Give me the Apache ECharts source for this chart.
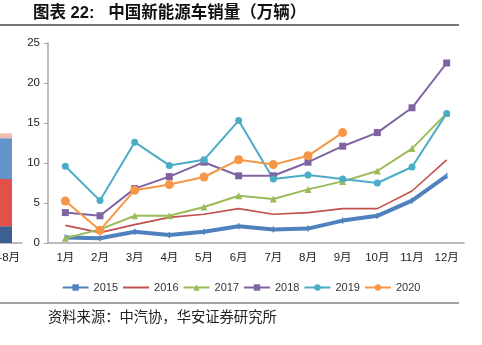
<!DOCTYPE html>
<html><head><meta charset="utf-8">
<script src="https://cdn.jsdelivr.net/npm/echarts@6/dist/echarts.min.js"></script>
<style>html,body{margin:0;padding:0;background:#fff}#c{width:482px;height:345px}</style>
</head><body><div id="c"></div>
<script>
var months = ['1月','2月','3月','4月','5月','6月','7月','8月','9月','10月','11月','12月'];
var yTicks = [0,5,10,15,20,25];
var s2015 = [0.7,0.6,1.4,1.0,1.4,2.1,1.7,1.8,2.8,3.4,5.3,8.4];
var s2016 = [2.2,1.3,2.3,3.2,3.6,4.3,3.6,3.8,4.3,4.3,6.5,10.4];
var s2017 = [0.6,1.7,3.4,3.4,4.5,5.9,5.5,6.7,7.7,9.0,11.8,16.2];
var s2018 = [3.8,3.4,6.8,8.3,10.1,8.4,8.4,10.1,12.1,13.8,16.9,22.5];
var s2019 = [9.6,5.3,12.6,9.7,10.4,15.3,8.0,8.5,8.0,7.5,9.5,16.2];
var s2020 = [5.25,1.6,6.6,7.3,8.25,10.4,9.8,10.9,13.8];
var fragCats = ['1-8月'];
var fragA = [2.1], fragB = [5.9], fragC = [5.1], fragD = [0.6];

var FONT = 'Liberation Sans, Arial, Noto Sans CJK SC, sans-serif';
var chart = echarts.init(document.getElementById('c'), null, {renderer:'canvas'});
function ln(name, data, color, width, symbol, size){
  return {name:name, type:'line', data:data, xAxisIndex:0, yAxisIndex:0,
    symbol:symbol, symbolSize:size, showSymbol: symbol!=='none',
    lineStyle:{color:color, width:width}, itemStyle:{color:color},
    emphasis:{disabled:true}, animation:false, z:3};
}
var option = {
  animation:false,
  textStyle:{fontFamily:FONT},
  graphic:[
    {type:'text', left:33, top:5, style:{text:'图表 22:   中国新能源车销量（万辆）', font:'bold 16.5px Liberation Sans, Noto Sans CJK SC', fill:'#111'}},
    {type:'rect', shape:{x:0,y:24,width:459,height:2}, style:{fill:'#777'}},
    {type:'rect', shape:{x:0,y:302.5,width:459,height:1}, style:{fill:'#444'}},
    {type:'text', left:48, top:309, style:{text:'资料来源：中汽协，华安证券研究所', font:'14.3px Noto Sans CJK SC', fill:'#222'}}
  ],
  legend:{
    data:['2015',{name:'2016', itemStyle:{opacity:0}},'2017','2018','2019','2020'],
    left:'center', top:277, itemWidth:26, itemHeight:8, itemGap:4,
    textStyle:{fontSize:11, color:'#333', fontFamily:FONT}
  },
  grid:[
    {left:48, right:18, top:43, bottom:102, outerBoundsMode:'none'},
    {left:-10, width:32, top:43, bottom:102, outerBoundsMode:'none', containLabel:false}
  ],
  xAxis:[
    {type:'category', gridIndex:0, data:months, boundaryGap:true,
     axisLine:{lineStyle:{color:'#a6a6a6', width:1.5}}, axisTick:{show:false},
     axisLabel:{color:'#222', fontSize:11.5, margin:9, fontFamily:FONT}},
    {type:'category', gridIndex:1, data:fragCats,
     axisLine:{lineStyle:{color:'#a6a6a6', width:1.5}}, axisTick:{show:false},
     axisLabel:{color:'#222', fontSize:11.5, margin:9, fontFamily:FONT}}
  ],
  yAxis:[
    {type:'value', gridIndex:0, min:0, max:25, interval:5,
     axisLine:{show:true, lineStyle:{color:'#a6a6a6', width:1.5}},
     axisTick:{show:true, length:4, lineStyle:{color:'#a6a6a6'}},
     splitLine:{show:false},
     axisLabel:{color:'#222', fontSize:11.5, margin:8, fontFamily:FONT}},
    {type:'value', gridIndex:1, min:0, max:25, show:false}
  ],
  series:[
    ln('2015', s2015, '#4f81bd', 4, 'rect', [1.5,6]),
    ln('2016', s2016, '#c0504d', 1.6, 'none', 0),
    ln('2017', s2017, '#9bbb59', 2, 'triangle', 7),
    ln('2018', s2018, '#8064a2', 2, 'rect', 7),
    ln('2019', s2019, '#4bacc6', 2, 'circle', 7),
    ln('2020', s2020, '#f79646', 2, 'circle', 9),
    {type:'bar', xAxisIndex:1, yAxisIndex:1, stack:'f', data:fragA, barWidth:12, itemStyle:{color:'#3e5f92'}, animation:false},
    {type:'bar', xAxisIndex:1, yAxisIndex:1, stack:'f', data:fragB, barWidth:12, itemStyle:{color:'#e3504a'}, animation:false},
    {type:'bar', xAxisIndex:1, yAxisIndex:1, stack:'f', data:fragC, barWidth:12, itemStyle:{color:'#6393cb'}, animation:false},
    {type:'bar', xAxisIndex:1, yAxisIndex:1, stack:'f', data:fragD, barWidth:12, itemStyle:{color:'#f4bcae'}, animation:false}
  ]
};
chart.setOption(option);
</script></body></html>
